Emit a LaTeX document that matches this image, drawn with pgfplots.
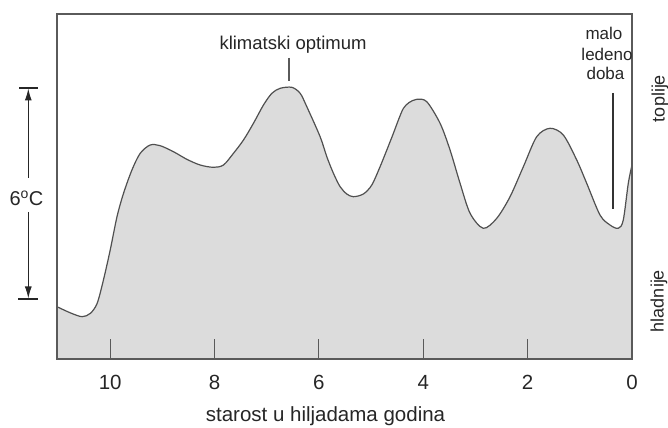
\documentclass[border=0pt]{standalone}
\usepackage{fontspec}
\setmainfont{Liberation Sans}
\usepackage{pgfplots}
\usepackage{pgfplotstable}
\pgfplotsset{compat=1.18}
\usetikzlibrary{arrows.meta}
\definecolor{fillgray}{RGB}{220,220,220}
\definecolor{curvecol}{RGB}{80,80,80}
\definecolor{framecol}{RGB}{90,90,90}

\pgfplotstableread{
x y
11.02 1.487
10.77 1.316
10.54 1.203
10.38 1.299
10.25 1.584
10.13 2.246
10.00 3.099
9.87 4.046
9.745 4.711
9.584 5.374
9.425 5.849
9.234 6.085
9.042 6.065
8.787 5.894
8.531 5.678
8.276 5.516
8.021 5.451
7.830 5.516
7.638 5.849
7.446 6.227
7.255 6.702
7.063 7.222
6.902 7.555
6.743 7.697
6.519 7.725
6.360 7.555
6.232 7.174
5.977 6.321
5.849 5.752
5.722 5.280
5.594 4.899
5.466 4.692
5.339 4.615
5.148 4.692
4.987 4.947
4.828 5.468
4.699 5.943
4.573 6.417
4.477 6.796
4.381 7.128
4.272 7.293
4.124 7.384
3.933 7.316
3.678 6.702
3.487 5.943
3.295 4.996
3.103 4.143
2.849 3.716
2.592 4.001
2.337 4.615
2.082 5.468
1.826 6.321
1.571 6.560
1.316 6.369
1.059 5.658
0.868 4.996
0.613 4.094
0.421 3.810
0.262 3.716
0.167 3.952
0.071 4.996
0.000 5.516
}\curve

\begin{document}
\begin{tikzpicture}
\useasboundingbox (0,0) rectangle (668bp,428bp);
\begin{axis}[
  at={(57bp,69bp)}, anchor=south west,
  scale only axis, width=575bp, height=345bp,
  x dir=reverse,
  xmin=0, xmax=11.02, ymin=0, ymax=9.81,
  xtick={0,2,4,6,8,10},
  xticklabels={0,2,4,6,8,10},
  ytick=\empty,
  xtick pos=left,
  tick align=inside,
  major tick length=20bp,
  xtick style={draw=framecol, line width=1.1bp},
  xticklabel style={anchor=base, yshift=-30.3bp, font=\fontsize{20.5bp}{24bp}\selectfont, text=black!85},
  axis line style={draw=framecol, line width=1.2bp},
  clip=false,
  axis on top,
]
\addplot[draw=none, fill=fillgray, smooth] table[x=x,y=y] {\curve} \closedcycle;
\addplot[curvecol, line width=1.2bp, smooth] table[x=x,y=y] {\curve};
\end{axis}
\begin{scope}[x=1bp, y=-1bp, shift={(0bp,428bp)}, text=black!85]
  % x label
  \node[anchor=base, font=\fontsize{20.5bp}{24bp}\selectfont] at (325.5,421.7) {starost u hiljadama godina};
  % klimatski optimum
  \node[anchor=base, font=\fontsize{18.5bp}{22bp}\selectfont] at (293,50) {klimatski optimum};
  \draw[framecol, line width=1.1bp] (289,58) -- (289,81);
  % malo ledeno doba
  \node[anchor=base, font=\fontsize{17bp}{20bp}\selectfont] at (604,40) {malo};
  \node[anchor=base, font=\fontsize{17bp}{20bp}\selectfont] at (607,61) {ledeno};
  \node[anchor=base, font=\fontsize{17bp}{20bp}\selectfont] at (605.5,80) {doba};
  \draw[black!80, line width=1.1bp] (613,93) -- (613,209);
  % toplije / hladnije
  \node[rotate=90, font=\fontsize{18bp}{22bp}\selectfont] at (660,98.5) {toplije};
  \node[rotate=90, font=\fontsize{18bp}{22bp}\selectfont] at (659,301) {hladnije};
  % 6 C scale
  \node[anchor=base, font=\fontsize{20bp}{24bp}\selectfont] at (26.5,206) {6\textsuperscript{o}C};
  \draw[black!85, line width=1.1bp] (19,88) -- (38,88);
  \draw[black!85, line width=1.1bp] (18,299) -- (38,299);
  \draw[black!85, line width=1.1bp, -{Latex[length=12bp,width=7bp]}] (28.3,178) -- (28.3,88.5);
  \draw[black!85, line width=1.1bp, -{Latex[length=12bp,width=7bp]}] (28.3,212) -- (28.3,298.5);
\end{scope}
\end{tikzpicture}
\end{document}
